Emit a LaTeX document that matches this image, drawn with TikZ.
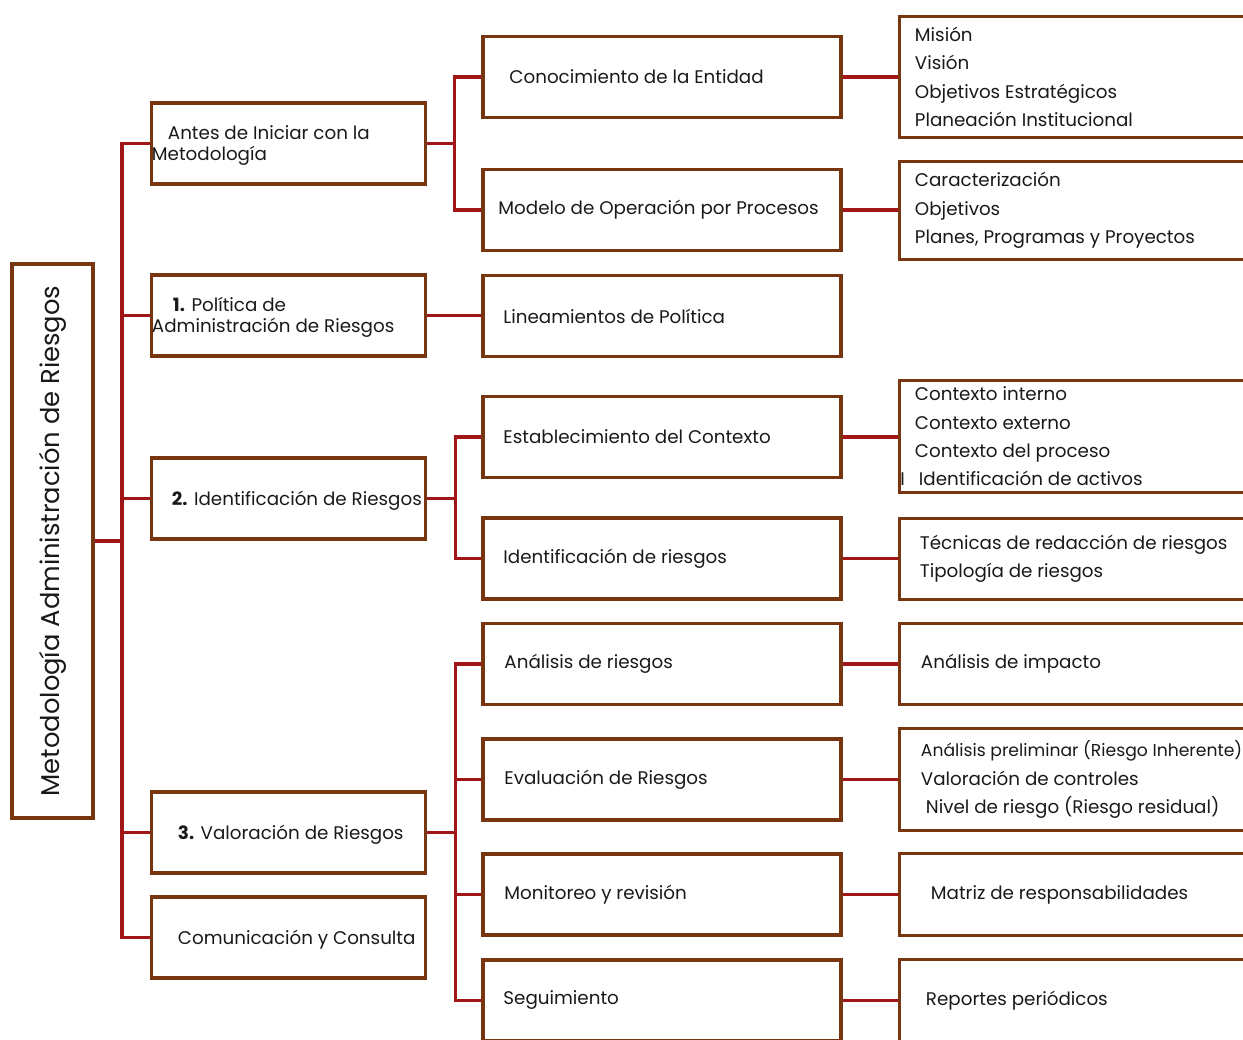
\documentclass[tikz,border=0pt]{standalone}
\usepackage{fontspec}
\setmainfont{Poppins}
\usetikzlibrary{positioning}
\definecolor{boxbrown}{RGB}{120,54,16}
\definecolor{linkred}{RGB}{160,22,22}
\tikzset{
  box/.style={draw=boxbrown, line width=3.5pt, inner sep=0pt, minimum height=81pt},
  lvone/.style={box, minimum width=274pt},
  lvtwo/.style={box, minimum width=358pt},
  lvthree/.style={box, minimum width=400pt},
  txt/.style={inner sep=0pt, align=left, text=black!90, font=\fontsize{18.3}{28.4}\selectfont},
  link/.style={draw=linkred, line width=3.5pt},
}
\begin{document}
\begin{tikzpicture}[x=1pt,y=-1pt]
  \useasboundingbox (0,0) rectangle (1243,1040);
  \clip (0,0) rectangle (1243,1040);
  % raiz
  \node[box, minimum width=81pt, minimum height=554pt] (root) at (52.5,541) {};
  \node[txt, rotate=90, font=\fontsize{25.8}{28}\selectfont] (root-t) at (root.center) {Metodología Administración de Riesgos};
  % primer nivel
  \foreach \n/\y/\dx/\t in {
      antes/143.5/2/{\hspace*{16pt}Antes de Iniciar con la\\Metodología},
      pol/315.5/2/{\hspace*{21pt}\textbf{1.} Política de\\Administración de Riesgos},
      ide/498.5/22/{\textbf{2.} Identificación de Riesgos},
      val/832.5/28/{\textbf{3.} Valoración de Riesgos},
      com/937.5/28/{Comunicación y Consulta}}{
    \node[lvone] (\n) at (288.5,\y) {};
    \node[txt, font=\fontsize{18.3}{21.5}\selectfont, right=\dx pt of \n.west, yshift=-2pt] (\n-t) {\t};
  }
  % segundo nivel
  \foreach \n/\y/\dx/\t in {
      con/77/28/{Conocimiento de la Entidad},
      mod/210/17/{Modelo de Operación por Procesos},
      lin/316/22/{Lineamientos de Política},
      est/437/22/{Establecimiento del Contexto},
      idr/558.5/22/{Identificación de riesgos},
      ana/664/23/{Análisis de riesgos},
      eva/779.5/23/{Evaluación de Riesgos},
      mon/894.5/23/{Monitoreo y revisión},
      seg/1000.5/22/{Seguimiento}}{
    \node[lvtwo] (\n) at (662,\y) {};
    \node[txt, right=\dx pt of \n.west] (\n-t) {\t};
  }
  % tercer nivel
  \foreach \n/\y/\h/\dx/\t in {
      mis/77/121/17/{Misión\\Visión\\Objetivos Estratégicos\\Planeación Institucional},
      car/210.5/98/17/{Caracterización\\Objetivos\\Planes, Programas y Proyectos},
      ctx/436.5/112/17/{Contexto interno\\Contexto externo\\Contexto del proceso\\\makebox[0pt][r]{I\hspace{10pt}}\hspace*{4pt}Identificación de activos},
      tec/559/81/22/{Técnicas de redacción de riesgos\\Tipología de riesgos},
      imp/664/81/23/{Análisis de impacto},
      pre/779.5/102/23/{{\fontsize{17.2}{28.4}\selectfont Análisis preliminar (Riesgo Inherente)}\\Valoración de controles\\\hspace*{5pt}Nivel de riesgo (Riesgo residual)},
      mat/894.5/82/33/{Matriz de responsabilidades},
      rep/1000.5/82/28/{Reportes periódicos}}{
    \node[lvthree, minimum height=\h pt] (\n) at (1099.5,\y) {};
    \node[txt, right=\dx pt of \n.west] (\n-t) {\t};
  }
  % conectores
  \coordinate (trunk) at (122,541);
  \draw[link] (root) -- (trunk);
  \foreach \n in {antes,pol,ide,val,com}
    \draw[link] (\n.west) -| (trunk);
  \draw[link] (antes.east) -- ++(27,0) coordinate (ja);
  \draw[link] (ide.east) -- ++(28,0) coordinate (jb);
  \draw[link] (val.east) -- ++(28,0) coordinate (jc);
  \foreach \n/\j in {con/ja,mod/ja,est/jb,idr/jb,ana/jc,eva/jc,mon/jc,seg/jc}
    \draw[link] (\n.west) -| (\j);
  \draw[link] (pol.east) -- (pol.east -| lin.west);
  \foreach \a/\b in {con/mis,mod/car,est/ctx,idr/tec,ana/imp,eva/pre,mon/mat,seg/rep}
    \draw[link] (\a.east) -- (\a.east -| \b.west);
\end{tikzpicture}
\end{document}
